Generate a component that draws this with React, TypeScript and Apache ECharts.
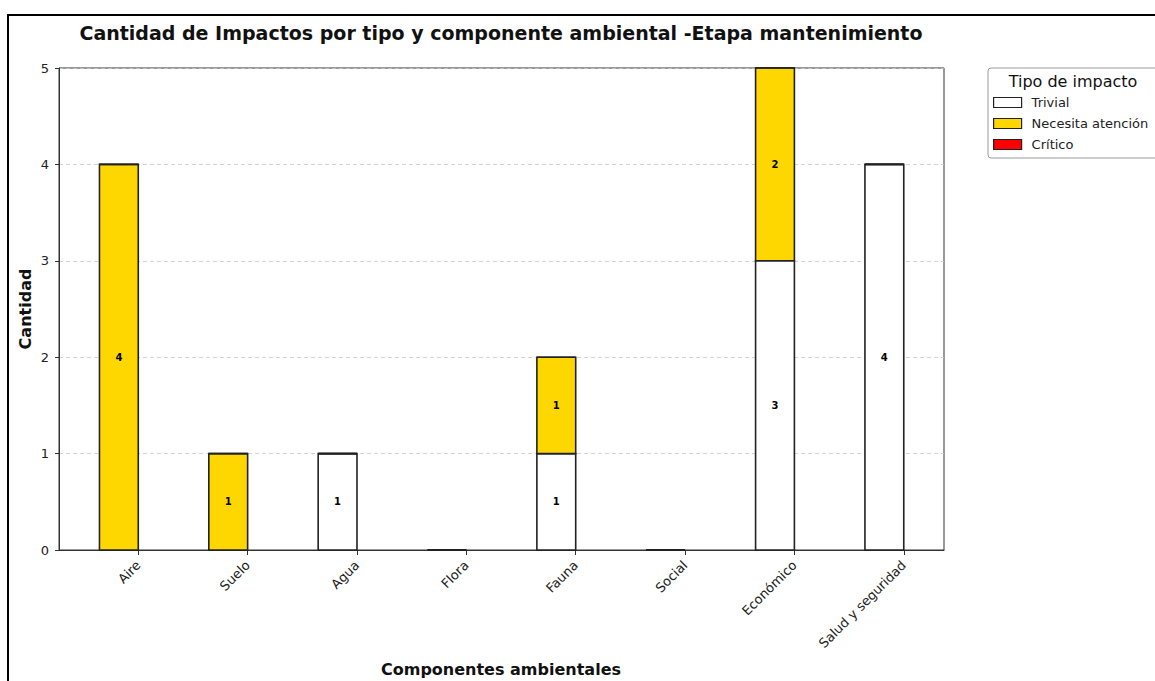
import React, { useEffect, useRef } from "react";
import * as echarts from "echarts";

const categories = ["Aire", "Suelo", "Agua", "Flora", "Fauna", "Social", "Económico", "Salud y seguridad"];
const seriesNames = ["Trivial", "Necesita atención", "Crítico"];
const trivial = [0, 0, 1, 0, 1, 0, 3, 4];
const necesita = [4, 1, 0, 0, 1, 0, 2, 0];
const critico = [0, 0, 0, 0, 0, 0, 0, 0];
const yTicks = [0, 1, 2, 3, 4, 5];
const colors = ["#ffffff", "#ffd700", "#ff0000"];

const FONT = "DejaVu Sans";

export default function App() {
  const ref = useRef<HTMLDivElement>(null);
  useEffect(() => {
    if (!ref.current) return;
    const chart = echarts.init(ref.current, null, { renderer: "svg" });
    const values = [trivial, necesita, critico];
    const bases = values.map((_, s) =>
      categories.map((__, i) => values.slice(0, s).reduce((acc, arr) => acc + arr[i], 0))
    );
    const renderItem = (params: any, api: any) => {
      const i = api.value(0);
      const v = api.value(1);
      const b = api.value(2);
      const p0 = api.coord([i - 0.355, b + v]);
      const p1 = api.coord([i, b]);
      const color = api.visual("color");
      const children: any[] = [
        {
          type: "rect",
          shape: { x: p0[0], y: p0[1], width: p1[0] - p0[0], height: p1[1] - p0[1] },
          style: { fill: color, stroke: "#222", lineWidth: 1.6 },
        },
      ];
      if (v > 0) {
        children.push({
          type: "text",
          style: {
            text: String(v),
            x: (p0[0] + p1[0]) / 2,
            y: (p0[1] + p1[1]) / 2,
            align: "center",
            verticalAlign: "middle",
            font: `bold 10px "${FONT}"`,
            fill: "#000",
          },
        });
      }
      return { type: "group", children };
    };
    chart.setOption({
      animation: false,
      textStyle: { fontFamily: FONT },
      grid: { left: 59, right: 211, top: 68, bottom: 131, show: true, borderColor: "#333", borderWidth: 1, backgroundColor: "transparent" },
      xAxis: {
        type: "value",
        min: -0.725,
        max: 7.368,
        splitLine: { show: false },
        axisLine: { show: true, onZero: false, lineStyle: { color: "#333", width: 1 } },
        axisTick: { show: true, customValues: categories.map((_, i) => i), length: 5, lineStyle: { color: "#333" } },
        axisLabel: {
          customValues: categories.map((_, i) => i),
          formatter: (v: number) => categories[Math.round(v)] ?? "",
          rotate: 45,
          margin: 13,
          fontSize: 13,
          color: "#222",
          fontFamily: FONT,
        },
      },
      yAxis: {
        type: "value",
        min: 0,
        max: 5,
        interval: 1,
        axisLine: { show: true, onZero: false, lineStyle: { color: "#333", width: 1 } },
        axisTick: { show: true, length: 4, lineStyle: { color: "#333" } },
        axisLabel: {
          fontSize: 13,
          color: "#222",
          margin: 10,
          fontFamily: FONT,
          formatter: (v: number) => (yTicks.includes(v) ? String(v) : ""),
        },
        splitLine: { show: true, lineStyle: { color: "#c8c8c8", type: [4, 3], width: 0.8 } },
      },
      legend: {
        orient: "vertical",
        left: 988,
        top: 91,
        itemWidth: 28,
        itemHeight: 10,
        itemGap: 8,
        icon: "rect",
        textStyle: { fontSize: 13, color: "#222", fontFamily: FONT, padding: [0, 0, 0, 5] },
        data: seriesNames.map((n, s) => ({
          name: n,
          itemStyle: { color: colors[s], borderColor: "#222", borderWidth: 1.2 },
        })),
      },
      series: seriesNames.map((n, s) => ({
        type: "custom",
        name: n,
        renderItem,
        itemStyle: { color: colors[s], borderColor: "#222", borderWidth: 1.2 },
        encode: { x: 0, y: 1 },
        z: 3,
        data: values[s].map((v, i) => [i, v, bases[s][i]]),
      })),
      graphic: [
        { type: "rect", shape: { x: 8, y: 15, width: 1200, height: 720 }, style: { fill: "none", stroke: "#000", lineWidth: 2 }, silent: true },
        { type: "rect", shape: { x: 988, y: 68, width: 200, height: 90, r: 3 }, style: { fill: "#fff", stroke: "#999", lineWidth: 1 }, z: -1, silent: true },
        { type: "text", x: 1073, y: 81, style: { text: "Tipo de impacto", font: `16px "${FONT}"`, fill: "#111", align: "center", verticalAlign: "middle" } },
        { type: "text", x: 501, y: 33, style: { text: "Cantidad de Impactos por tipo y componente ambiental -Etapa mantenimiento", font: `bold 19px "${FONT}"`, fill: "#111", align: "center", verticalAlign: "middle" } },
        { type: "text", x: 501, y: 669, style: { text: "Componentes ambientales", font: `bold 16px "${FONT}"`, fill: "#111", align: "center", verticalAlign: "middle" } },
        { type: "text", x: 25, y: 309, rotation: Math.PI / 2, style: { text: "Cantidad", font: `bold 16px "${FONT}"`, fill: "#111", align: "center", verticalAlign: "middle" } },
      ],
    });
    return () => chart.dispose();
  }, []);
  return <div ref={ref} style={{ position: "fixed", left: 0, top: 0, width: 1155, height: 681, background: "#fff" }} />;
}
